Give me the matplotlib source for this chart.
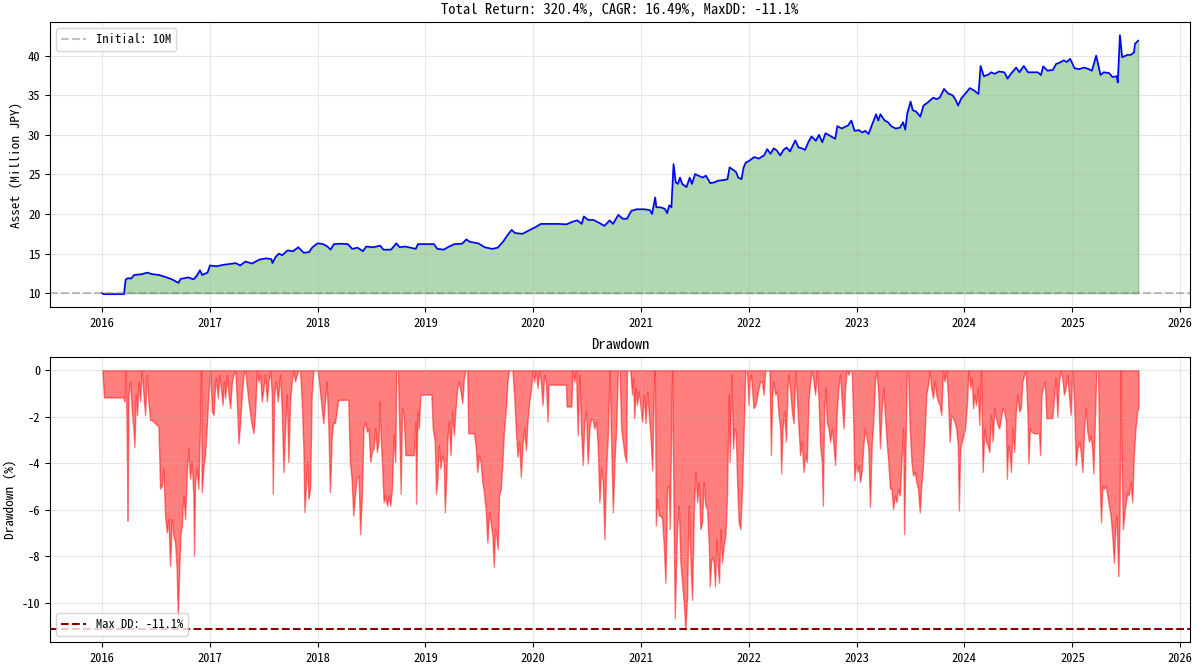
import pandas as pd
import matplotlib
matplotlib.use("Agg")
import matplotlib.pyplot as plt

plt.rcParams['font.family'] = ['Noto Sans Mono CJK JP', 'Noto Sans CJK JP', 'DejaVu Sans']
plt.rcParams['axes.unicode_minus'] = False

# Equity curve (decimal year, asset in million JPY)
eq_years = [
    2016.000, 2016.020, 2016.205, 2016.220, 2016.240, 2016.270, 2016.300, 2016.370, 2016.420, 2016.470,
    2016.530, 2016.600, 2016.650, 2016.710, 2016.730, 2016.800, 2016.850, 2016.880, 2016.910, 2016.930,
    2016.980, 2017.000, 2017.060, 2017.130, 2017.190, 2017.240, 2017.280, 2017.330, 2017.390, 2017.460,
    2017.520, 2017.570, 2017.580, 2017.610, 2017.640, 2017.670, 2017.720, 2017.770, 2017.820, 2017.870,
    2017.920, 2017.950, 2018.000, 2018.050, 2018.090, 2018.120, 2018.150, 2018.220, 2018.280, 2018.320,
    2018.370, 2018.420, 2018.450, 2018.510, 2018.580, 2018.610, 2018.680, 2018.730, 2018.760, 2018.810,
    2018.910, 2018.930, 2019.010, 2019.080, 2019.110, 2019.170, 2019.220, 2019.270, 2019.340, 2019.380,
    2019.410, 2019.490, 2019.550, 2019.620, 2019.670, 2019.720, 2019.760, 2019.800, 2019.830, 2019.900,
    2019.970, 2020.030, 2020.070, 2020.230, 2020.310, 2020.360, 2020.410, 2020.450, 2020.470, 2020.510,
    2020.560, 2020.630, 2020.660, 2020.710, 2020.740, 2020.790, 2020.830, 2020.870, 2020.910, 2020.960,
    2021.03, 2021.08, 2021.10, 2021.13, 2021.14, 2021.18, 2021.22, 2021.24, 2021.26, 2021.28,
    2021.30, 2021.32, 2021.34, 2021.36, 2021.38, 2021.42, 2021.45, 2021.47, 2021.50, 2021.53,
    2021.57, 2021.60, 2021.64, 2021.68, 2021.71, 2021.77, 2021.80, 2021.82, 2021.85, 2021.88,
    2021.90, 2021.93, 2021.95, 2021.97, 2022.00, 2022.05, 2022.09, 2022.14, 2022.17, 2022.20,
    2022.23, 2022.26, 2022.29, 2022.32, 2022.35, 2022.38, 2022.43, 2022.46, 2022.49, 2022.52,
    2022.55, 2022.58, 2022.62, 2022.65, 2022.68, 2022.71, 2022.75, 2022.80, 2022.82, 2022.86,
    2022.89, 2022.92, 2022.95, 2022.98, 2023.02, 2023.05, 2023.08, 2023.11, 2023.14, 2023.18,
    2023.20, 2023.22, 2023.26, 2023.29, 2023.32, 2023.36, 2023.40, 2023.43, 2023.45, 2023.47,
    2023.50, 2023.52, 2023.55, 2023.59, 2023.62, 2023.66, 2023.71, 2023.74, 2023.77, 2023.81,
    2023.85, 2023.89, 2023.92, 2023.94, 2023.97, 2024.02, 2024.05, 2024.09, 2024.13, 2024.15,
    2024.18, 2024.22, 2024.25, 2024.28, 2024.32, 2024.37, 2024.40, 2024.43, 2024.48, 2024.51,
    2024.55, 2024.59, 2024.68, 2024.71, 2024.73, 2024.77, 2024.82, 2024.85, 2024.88, 2024.92,
    2024.95, 2024.98, 2025.02, 2025.06, 2025.11, 2025.15, 2025.18, 2025.22, 2025.26, 2025.29,
    2025.34, 2025.37, 2025.41, 2025.42, 2025.44, 2025.46, 2025.51, 2025.54, 2025.57, 2025.58,
    2025.61,
]
eq_values = [
    10.0, 9.88, 9.88, 11.7, 11.9, 11.85, 12.3, 12.4, 12.6, 12.4,
    12.3, 12.0, 11.75, 11.3, 11.8, 12.0, 11.75, 12.2, 12.9, 12.3,
    12.6, 13.5, 13.4, 13.6, 13.7, 13.8, 13.5, 14.0, 13.75, 14.25,
    14.4, 14.3, 13.8, 14.6, 15.0, 14.8, 15.4, 15.3, 15.8, 15.1,
    15.2, 15.8, 16.3, 16.2, 15.9, 15.5, 16.2, 16.25, 16.2, 15.6,
    15.75, 15.3, 15.9, 15.8, 16.0, 15.5, 15.5, 16.3, 15.8, 15.9,
    15.6, 16.2, 16.2, 16.2, 15.6, 15.5, 15.9, 16.2, 16.25, 16.8,
    16.5, 16.3, 15.8, 15.6, 15.75, 16.5, 17.3, 18.0, 17.6, 17.5,
    18.0, 18.4, 18.75, 18.75, 18.7, 19.0, 19.2, 18.75, 19.7, 19.25,
    19.25, 18.75, 18.5, 19.2, 18.75, 19.9, 19.4, 19.4, 20.4, 20.6,
    20.6, 20.5, 20.0, 22.1, 20.85, 20.85, 20.65, 20.1, 21.1, 20.85,
    26.3, 24.0, 23.8, 24.6, 23.8, 23.4, 24.6, 23.8, 25.05, 24.85,
    24.6, 24.85, 23.9, 24.0, 24.2, 24.3, 24.4, 25.9, 25.6, 25.3,
    24.6, 24.4, 25.9, 26.5, 26.7, 27.2, 27.0, 27.4, 28.2, 27.6,
    28.3, 28.0, 27.4, 28.1, 28.4, 27.9, 29.3, 28.4, 28.3, 28.1,
    29.05, 29.8, 29.25, 30.0, 29.05, 30.2, 29.9, 29.5, 31.1, 30.8,
    31.0, 31.2, 31.8, 30.5, 30.6, 30.3, 30.5, 30.1, 31.2, 32.6,
    31.8, 32.6, 31.8, 31.6, 31.1, 30.8, 30.9, 31.6, 30.65, 32.75,
    34.2, 33.1, 32.95, 32.3, 33.7, 34.1, 34.7, 34.5, 34.7, 35.8,
    35.2, 35.0, 34.35, 33.7, 34.6, 35.4, 35.9, 35.6, 35.15, 38.7,
    37.4, 37.6, 37.9, 37.7, 38.0, 37.9, 37.1, 37.7, 38.5, 37.9,
    38.7, 37.9, 37.9, 37.55, 38.65, 38.1, 38.2, 38.95, 39.1, 39.4,
    39.2, 39.6, 38.4, 38.3, 38.5, 38.3, 38.1, 40.0, 37.55, 37.9,
    37.8, 37.3, 37.4, 36.6, 42.6, 39.8, 40.1, 40.1, 40.4, 41.5,
    41.9,
]

# Drawdown (decimal year, %)
dd_years = [
    # 2016
    2016.005, 2016.020, 2016.201, 2016.210, 2016.222, 2016.231, 2016.238, 2016.247, 2016.262, 2016.278,
    2016.293, 2016.302, 2016.315, 2016.327, 2016.340, 2016.355, 2016.370, 2016.386, 2016.401, 2016.417,
    2016.432, 2016.448, 2016.463, 2016.525, 2016.540, 2016.556, 2016.571, 2016.586, 2016.602, 2016.617,
    2016.633, 2016.648, 2016.664, 2016.679, 2016.694, 2016.704, 2016.716, 2016.728, 2016.741, 2016.756,
    2016.772, 2016.787, 2016.802, 2016.818, 2016.833, 2016.849, 2016.855, 2016.864, 2016.880, 2016.895,
    2016.910, 2016.920, 2016.926, 2016.941, 2016.957, 2016.972, 2016.988,
    # 2017
    2017.003, 2017.019, 2017.034, 2017.043, 2017.056, 2017.074, 2017.086, 2017.105, 2017.117, 2017.130,
    2017.142, 2017.157, 2017.173, 2017.188, 2017.204, 2017.219, 2017.235, 2017.250, 2017.265, 2017.281,
    2017.296, 2017.312, 2017.327, 2017.358, 2017.383, 2017.404, 2017.420, 2017.435, 2017.451, 2017.466,
    2017.481, 2017.497, 2017.512, 2017.528, 2017.543, 2017.559, 2017.574, 2017.583, 2017.596, 2017.611,
    2017.630, 2017.651, 2017.667, 2017.682, 2017.698, 2017.713, 2017.728, 2017.744, 2017.759, 2017.775,
    2017.790, 2017.806, 2017.821, 2017.836, 2017.852, 2017.867, 2017.877, 2017.889, 2017.901, 2017.914,
    2017.929, 2017.944, 2017.960, 2018.000,
    # early 2018
    2018.012, 2018.031, 2018.052, 2018.068, 2018.083, 2018.099, 2018.114, 2018.130, 2018.145, 2018.160,
    2018.176, 2018.191, 2018.284, 2018.299, 2018.315, 2018.330, 2018.346, 2018.361,
    # 2018.4 - 2020.9
    2018.379, 2018.394, 2018.410, 2018.425, 2018.441, 2018.457, 2018.472, 2018.488, 2018.503, 2018.519,
    2018.534, 2018.550, 2018.565, 2018.575, 2018.584, 2018.596, 2018.612, 2018.627, 2018.643, 2018.658,
    2018.674, 2018.689, 2018.705, 2018.720, 2018.730, 2018.745, 2018.758, 2018.770, 2018.783, 2018.798,
    2018.814, 2018.891, 2018.907, 2018.913, 2018.925, 2018.938, 2018.953, 2019.056, 2019.068, 2019.087,
    2019.099, 2019.112, 2019.124, 2019.140, 2019.155, 2019.171, 2019.180, 2019.193, 2019.205, 2019.217,
    2019.233, 2019.248, 2019.264, 2019.280, 2019.295, 2019.311, 2019.326, 2019.342, 2019.357, 2019.373,
    2019.388, 2019.398, 2019.450, 2019.466, 2019.481, 2019.497, 2019.512, 2019.528, 2019.543, 2019.559,
    2019.575, 2019.590, 2019.606, 2019.621, 2019.634, 2019.646, 2019.658, 2019.671, 2019.683, 2019.699,
    2019.714, 2019.730, 2019.745, 2019.761, 2019.776, 2019.807, 2019.823, 2019.839, 2019.854, 2019.870,
    2019.885, 2019.901, 2019.916, 2019.932, 2019.947, 2019.963, 2019.978, 2019.994, 2020.009, 2020.025,
    2020.040, 2020.056, 2020.071, 2020.087, 2020.102, 2020.118, 2020.134, 2020.143, 2020.304, 2020.311,
    2020.354, 2020.366, 2020.382, 2020.398, 2020.413, 2020.429, 2020.444, 2020.460, 2020.475, 2020.491,
    2020.506, 2020.522, 2020.537, 2020.553, 2020.568, 2020.584, 2020.599, 2020.615, 2020.630, 2020.646,
    2020.661, 2020.677, 2020.693, 2020.708, 2020.724, 2020.739, 2020.755, 2020.770, 2020.786, 2020.801,
    2020.817, 2020.832, 2020.848, 2020.863,
    # 2020.9 - 2023.3
    2020.870, 2020.886, 2020.901, 2020.917, 2020.926, 2020.938, 2020.951, 2020.963, 2020.978, 2020.994,
    2021.009, 2021.025, 2021.040, 2021.056, 2021.071, 2021.086, 2021.102, 2021.117, 2021.127, 2021.136,
    2021.148, 2021.164, 2021.179, 2021.194, 2021.210, 2021.225, 2021.241, 2021.256, 2021.265, 2021.287,
    2021.302, 2021.312, 2021.324, 2021.333, 2021.349, 2021.364, 2021.380, 2021.395, 2021.410, 2021.426,
    2021.441, 2021.457, 2021.472, 2021.488, 2021.503, 2021.519, 2021.534, 2021.549, 2021.565, 2021.580,
    2021.596, 2021.611, 2021.627, 2021.636, 2021.648, 2021.660, 2021.673, 2021.685, 2021.698, 2021.710,
    2021.722, 2021.735, 2021.750, 2021.765, 2021.781, 2021.796, 2021.812, 2021.821, 2021.836, 2021.852,
    2021.864, 2021.877, 2021.889, 2021.904, 2021.920, 2021.935, 2021.951, 2021.966, 2021.981, 2021.997,
    2022.006, 2022.019, 2022.028, 2022.043, 2022.059, 2022.074, 2022.090, 2022.105, 2022.120, 2022.136,
    2022.151, 2022.167, 2022.191, 2022.204, 2022.216, 2022.228, 2022.244, 2022.259, 2022.275, 2022.290,
    2022.299, 2022.312, 2022.327, 2022.343, 2022.358, 2022.367, 2022.383, 2022.398, 2022.414, 2022.429,
    2022.444, 2022.460, 2022.475, 2022.491, 2022.506, 2022.522, 2022.537, 2022.552, 2022.568, 2022.583,
    2022.599, 2022.614, 2022.630, 2022.645, 2022.660, 2022.676, 2022.685, 2022.698, 2022.710, 2022.722,
    2022.738, 2022.753, 2022.769, 2022.784, 2022.799, 2022.815, 2022.830, 2022.846, 2022.861, 2022.877,
    2022.892, 2022.907, 2022.923, 2022.938, 2022.954, 2022.969, 2022.978, 2022.991, 2023.006, 2023.019,
    2023.031, 2023.046, 2023.062, 2023.077, 2023.093, 2023.108, 2023.123, 2023.139, 2023.154, 2023.170,
    2023.185, 2023.201, 2023.216, 2023.231, 2023.247, 2023.262, 2023.278, 2023.293, 2023.309,
    # 2023.3 - 2025.6
    2023.323, 2023.338, 2023.354, 2023.369, 2023.385, 2023.400, 2023.415, 2023.431, 2023.440, 2023.452,
    2023.465, 2023.477, 2023.492, 2023.508, 2023.523, 2023.538, 2023.554, 2023.569, 2023.585, 2023.600,
    2023.615, 2023.631, 2023.646, 2023.662, 2023.677, 2023.692, 2023.708, 2023.723, 2023.738, 2023.754,
    2023.769, 2023.785, 2023.800, 2023.815, 2023.831, 2023.846, 2023.862, 2023.877, 2023.892, 2023.908,
    2023.923, 2023.938, 2023.948, 2023.960, 2023.975, 2023.991, 2024.006, 2024.025, 2024.037, 2024.055,
    2024.068, 2024.080, 2024.092, 2024.108, 2024.123, 2024.138, 2024.154, 2024.169, 2024.185, 2024.200,
    2024.215, 2024.231, 2024.246, 2024.262, 2024.277, 2024.292, 2024.308, 2024.323, 2024.338, 2024.354,
    2024.369, 2024.385, 2024.394, 2024.406, 2024.418, 2024.431, 2024.446, 2024.462, 2024.477, 2024.492,
    2024.508, 2024.523, 2024.538, 2024.554, 2024.569, 2024.585, 2024.594, 2024.606, 2024.622, 2024.646,
    2024.692, 2024.702, 2024.714, 2024.729, 2024.745, 2024.760, 2024.815, 2024.831, 2024.846, 2024.862,
    2024.877, 2024.892, 2024.908, 2024.923, 2024.938, 2024.954, 2024.969, 2024.985, 2025.000, 2025.015,
    2025.031, 2025.046, 2025.062, 2025.077, 2025.092, 2025.108, 2025.123, 2025.138, 2025.154, 2025.169,
    2025.185, 2025.194, 2025.206, 2025.222, 2025.237, 2025.252, 2025.265, 2025.277, 2025.292, 2025.308,
    2025.323, 2025.338, 2025.354, 2025.369, 2025.385, 2025.397, 2025.409, 2025.425, 2025.437, 2025.446,
    2025.455, 2025.468, 2025.483, 2025.495, 2025.508, 2025.523, 2025.538, 2025.554, 2025.569, 2025.585,
    2025.600, 2025.612,
]
dd_values = [
    # 2016
    0, -1.17, -1.17, -1.34, 0, -3.07, -6.46, -1.05, -0.48, -1.77,
    -2.50, -3.29, -1.05, -1.92, -0.48, -1.34, 0, -1.05, -1.92, -0.19,
    -1.34, -2.14, -2.14, -2.42, -5.09, -4.95, -4.23, -6.25, -6.97, -6.39,
    -8.41, -6.39, -7.11, -7.40, -8.56, -10.58, -8.85, -7.11, -6.68, -5.38,
    -6.39, -4.52, -3.36, -4.66, -3.94, -5.38, -7.98, -4.81, -4.23, -5.09,
    -2.50, 0, -5.24, -4.23, -3.65, -2.50, -1.05,
    # 2017
    0, -1.77, -1.92, -1.05, -0.33, -1.20, -0.19, -0.91, -1.49, -0.48,
    -1.20, -0.19, -1.05, -1.63, -0.48, -0.19, 0, -1.34, -3.15, -2.21,
    -1.05, -0.19, 0, -1.34, -2.21, -2.71, -1.77, 0, -0.48, -0.19,
    -1.34, -0.76, -0.19, -1.34, -0.48, 0, -1.05, -5.31, -1.05, -0.48,
    -1.34, -0.19, -1.77, -4.37, -2.50, -1.05, -3.94, -1.34, -0.48, 0,
    -0.48, -0.19, 0, 0, -1.34, -3.36, -6.10, -5.09, -3.94, -5.53,
    -5.09, -1.05, 0, 0,
    # early 2018
    -0.48, -1.34, -2.28, -1.34, -0.48, -2.35, -5.24, -2.93, -2.21, -2.28,
    -1.77, -1.27, -1.27, -3.94, -4.66, -6.25, -5.38, -4.66,
    # 2018.4 - 2020.9
    -4.52, -7.04, -5.38, -2.50, -2.21, -2.64, -2.50, -3.94, -3.51, -3.36,
    -2.50, -3.51, -3.07, -1.34, -2.78, -3.94, -5.67, -5.38, -5.82, -5.38,
    -5.82, -5.09, -2.78, -3.94, 0, 0, -2.78, -5.31, -1.63, -1.92,
    -3.65, -3.65, -2.21, -5.74, -1.77, -2.50, -1.05, -1.05, -2.50, -3.07,
    -5.31, -4.66, -3.22, -4.23, -3.65, -3.94, -6.10, -4.66, -2.93, -2.21,
    -3.65, -1.77, -2.78, -1.63, -0.76, -0.48, -0.91, -1.41, -0.33, 0,
    0, -2.71, -2.71, -3.22, -4.37, -3.65, -3.94, -4.81, -5.24, -5.96,
    -7.40, -6.10, -6.54, -7.11, -8.44, -6.83, -7.11, -7.69, -5.38, -5.09,
    -3.94, -2.50, -1.77, -0.48, 0, 0, -1.05, -2.50, -3.72, -3.07,
    -4.59, -3.22, -2.50, -3.43, -2.21, -1.34, -0.91, 0, -0.48, 0,
    -0.76, 0, -0.48, -1.49, -0.19, -0.48, -2.21, -0.62, -0.62, -1.56,
    -1.56, 0, -0.48, 0, -2.78, -0.19, -2.50, -4.08, -2.21, -1.77,
    -4.01, -2.50, -2.06, -2.14, -2.50, -2.21, -3.22, -5.67, -4.23, -4.81,
    -7.26, -4.23, -2.78, 0, -3.22, -6.10, -3.94, -2.50, 0, 0,
    -2.50, -3.07, -3.65, -3.94,
    # 2020.9 - 2023.3
    0, 0, 0, -1.05, -0.33, -2.06, -0.76, -1.49, -0.91, -1.49,
    -2.21, -1.05, -2.28, -0.91, -1.92, -2.78, -4.30, -1.05, 0, -6.68,
    -5.53, -6.25, -6.25, -6.39, -7.55, -9.13, -5.09, -4.95, -6.83, 0,
    -6.83, -10.65, -8.27, -6.83, -5.82, -8.27, -9.13, -10.00, -11.13, -9.71,
    -5.82, -8.27, -9.86, -6.10, -4.37, -5.67, -4.81, -6.83, -6.54, -4.81,
    -5.82, -5.96, -7.40, -9.28, -8.27, -7.98, -8.27, -9.28, -7.26, -8.41,
    -9.13, -6.83, -8.27, -7.55, -7.11, -5.38, -1.05, -3.94, -0.19, -3.36,
    -2.50, -2.64, -4.66, -6.54, -6.83, -5.09, -2.50, 0, 0, -1.49,
    -0.48, -0.19, -0.76, -1.63, -1.49, -1.20, -0.76, -0.48, -0.48, -1.05,
    0, 0, 0, -3.65, -1.05, -0.48, -1.05, -0.91, -1.92, -2.50,
    -4.44, -2.50, -1.77, -3.07, -0.76, -0.19, -0.91, -1.77, -2.28, 0,
    -1.05, -2.50, -3.65, -3.07, -4.37, -3.65, -3.94, -1.34, -0.48, 0,
    -0.48, -1.05, 0, -1.20, -3.22, -3.94, -5.82, -1.77, -0.76, -2.21,
    -2.50, -3.07, -2.50, -3.22, -4.08, -1.77, -0.76, -0.19, -1.34, -2.50,
    -0.76, 0, -0.19, 0, 0, -2.50, -4.73, -3.94, -4.37, -4.08,
    -4.81, -4.37, -3.22, -2.50, -2.93, -3.36, -5.89, -3.22, -2.21, -0.48,
    0, -1.05, -3.36, -1.77, -0.76, -1.92, -3.07, -3.94, -5.09,
    # 2023.3 - 2025.6
    -5.09, -5.96, -5.38, -5.67, -5.09, -5.38, -3.94, -2.50, -7.04, -3.65,
    0, 0, -2.50, -3.94, -4.52, -4.37, -4.81, -5.09, -6.10, -4.95,
    -4.08, -2.64, -1.05, -0.62, 0, -0.76, -1.20, -0.48, -1.05, -1.34,
    -1.49, -1.92, 0, -0.48, 0, -1.05, -3.07, -1.92, -2.06, -2.21,
    -2.50, -3.22, -6.03, -3.36, -3.07, -2.78, -2.50, -1.34, 0, -0.76,
    -0.33, -1.63, -1.05, -1.49, -0.76, -2.35, 0, -4.37, -2.50, -3.07,
    -3.22, -3.51, -1.92, -3.07, -1.63, -2.06, -2.35, -2.50, -2.06, -1.63,
    -1.77, -2.21, -4.66, -3.22, -3.51, -4.37, -2.50, -3.51, -1.77, -1.05,
    -1.77, -1.63, -0.48, -0.19, 0, -1.92, -4.01, -2.50, -2.64, -2.71,
    -2.71, -3.65, -1.05, -0.76, -0.48, -2.06, -2.06, -1.20, -0.33, -1.99,
    -0.48, 0, -0.33, -1.05, -0.76, -0.19, -1.05, -1.92, 0, -1.34,
    -4.08, -3.36, -3.07, -3.51, -4.37, -2.50, -1.63, -2.64, -3.07, -2.78,
    -3.51, -4.44, -2.50, 0, 0, -4.81, -6.54, -4.95, -5.09, -4.95,
    -5.38, -5.82, -6.25, -7.11, -8.27, -6.83, -6.25, -8.85, -6.39, 0,
    -3.94, -6.83, -6.10, -5.67, -5.24, -5.38, -4.81, -5.67, -3.65, -2.50,
    -1.77, -1.63,
]

initial_capital = 10
title_text = "Total Return: 320.4%, CAGR: 16.49%, MaxDD: -11.1%"


def to_dates(years):
    out = []
    for y in years:
        yr = int(y)
        out.append(pd.Timestamp(year=yr, month=1, day=1) + pd.Timedelta(days=(y - yr) * 365.25))
    return pd.DatetimeIndex(out)


eq_dates = to_dates(eq_years)
dd_dates = to_dates(dd_years)
max_dd = min(dd_values)

fig = plt.figure(figsize=(12, 6.69), dpi=100)
ax1 = fig.add_axes([0.0417, 0.541, 0.95, 0.426])
ax2 = fig.add_axes([0.0417, 0.040, 0.95, 0.426])

# Equity curve
ax1.plot(eq_dates, eq_values, color='blue', linewidth=1.2)
ax1.fill_between(eq_dates, eq_values, initial_capital, color='green', alpha=0.3)
ax1.axhline(initial_capital, color='gray', linestyle='--', alpha=0.5, label='Initial: 10M')
ax1.set_title(title_text, fontsize=10.5)
ax1.set_ylabel('Asset (Million JPY)', fontsize=9.5)
ax1.legend(loc='upper left', fontsize=9)
ax1.grid(True, alpha=0.3)
ax1.tick_params(labelsize=9)

# Drawdown
ax2.fill_between(dd_dates, dd_values, 0, color='red', alpha=0.5)
ax2.axhline(max_dd, color='darkred', linestyle='--', linewidth=1.5, label=f'Max DD: {max_dd:.1f}%')
ax2.set_title('Drawdown', fontsize=10.5)
ax2.set_ylabel('Drawdown (%)', fontsize=9.5)
ax2.legend(loc='lower left', fontsize=9)
ax2.grid(True, alpha=0.3)
ax2.tick_params(labelsize=9)
ax2.set_xlim(ax1.get_xlim())

fig.savefig('out.png', dpi=100)
